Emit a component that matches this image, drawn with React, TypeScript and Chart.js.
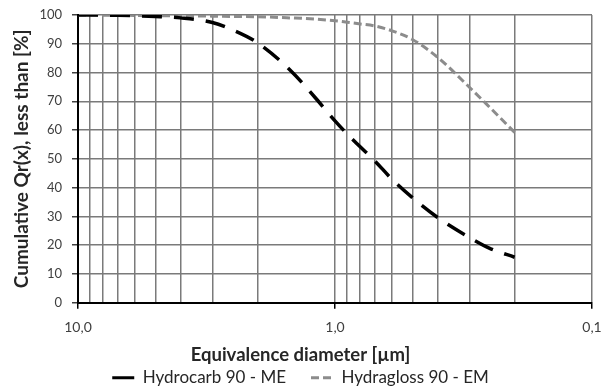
import React, { useEffect, useRef } from "react";
import { Chart, registerables } from "chart.js";
Chart.register(...registerables);

// Equivalence diameter [µm] sample points
const diameters = [10, 7, 5, 4, 3, 2.5, 2, 1.5, 1.2, 1.0, 0.9, 0.8, 0.7, 0.6, 0.5, 0.4, 0.3, 0.25, 0.2];
// Cumulative Qr(x) [%]
const hydrocarb = [100, 99.9, 99.5, 99.0, 97.4, 94.8, 90.3, 81.0, 71.5, 63.2, 58.8, 54.3, 49.3, 42.9, 36.5, 29.7, 22.7, 18.9, 15.8];
const hydragloss = [100, 99.9, 99.8, 99.7, 99.6, 99.5, 99.4, 99.0, 98.6, 98.0, 97.5, 96.9, 96.2, 94.5, 91.5, 85.4, 74.9, 67.9, 59.2];

const seriesNames = ["Hydrocarb 90 - ME", "Hydragloss 90 - EM"];
const xGridValues = [10, 9, 8, 7, 6, 5, 4, 3, 2, 1, 0.9, 0.8, 0.7, 0.6, 0.5, 0.4, 0.3, 0.2, 0.1];
const xTickLabels: Record<string, string> = { "10": "10,0", "1": "1,0", "0.1": "0,1" };
const xTitle = "Equivalence diameter [µm]";
const yTitle = "Cumulative Qr(x), less than [%]";

const FONT = "Lato, 'Open Sans', sans-serif";

export default function App() {
  const ref = useRef<HTMLCanvasElement>(null);
  useEffect(() => {
    const chart = new Chart(ref.current!, {
      type: "line",
      data: {
        datasets: [
          {
            label: seriesNames[0],
            data: diameters.map((d, i) => ({ x: d, y: hydrocarb[i] })),
            borderColor: "#000000",
            borderWidth: 3.5,
            borderDash: [20, 12],
            borderCapStyle: "butt",
            pointRadius: 0,
            cubicInterpolationMode: "monotone",
            fill: false,
          },
          {
            label: seriesNames[1],
            data: diameters.map((d, i) => ({ x: d, y: hydragloss[i] })),
            borderColor: "#8c8c8c",
            borderWidth: 3,
            borderDash: [8, 4],
            pointRadius: 0,
            cubicInterpolationMode: "monotone",
            fill: false,
          },
        ],
      },
      options: {
        animation: false,
        responsive: true,
        maintainAspectRatio: false,
        layout: { padding: { top: 15, left: 0, right: 0, bottom: -8.5 } },
        scales: {
          x: {
            type: "logarithmic",
            min: 0.1,
            max: 10,
            reverse: true,
            afterBuildTicks: (scale: any) => {
              scale.ticks = xGridValues.map((v) => ({ value: v, major: xTickLabels[String(v)] !== undefined }));
            },
            afterFit: (scale: any) => {
              scale.paddingRight = 9;
            },
            ticks: {
              autoSkip: false,
              maxRotation: 0,
              minRotation: 0,
              padding: 10,
              color: "#404040",
              font: { family: FONT, size: 14 },
              callback: (value: any) => xTickLabels[String(value)] ?? "",
            },
            grid: {
              color: "#7a7a7a",
              lineWidth: 1.5,
              tickLength: 6,
              tickColor: (c: any) => (c.tick && xTickLabels[String(c.tick.value)] !== undefined ? "#000000" : "rgba(0,0,0,0)"),
            },
            border: { display: true, color: "#000000", width: 2 },
          },
          y: {
            min: 0,
            max: 100,
            afterFit: (scale: any) => {
              scale.width = 78;
              scale.paddingTop = 0;
              scale.paddingBottom = 0;
            },
            ticks: {
              stepSize: 10,
              padding: 10,
              color: "#404040",
              font: { family: FONT, size: 13 },
            },
            grid: { color: "#7a7a7a", lineWidth: 1.5, tickLength: 6, tickColor: "#404040" },
            border: { display: true, color: "#000000", width: 2 },
            title: {
              display: true,
              text: yTitle,
              color: "#262626",
              font: { family: FONT, size: 19, weight: "bold" },
              padding: { top: 10.6, bottom: 0 },
            },
          },
        },
        plugins: {
          title: {
            display: true,
            text: xTitle,
            position: "bottom",
            weight: 500,
            color: "#262626",
            font: { family: FONT, size: 18.5, weight: "bold" },
            padding: { top: -2, bottom: -21.5 },
          },
          legend: {
            display: true,
            position: "bottom",
            labels: {
              usePointStyle: true,
              pointStyleWidth: 22,
              padding: 25,
              color: "#262626",
              font: { family: FONT, size: 17 },
              generateLabels: () => [
                {
                  text: seriesNames[0],
                  strokeStyle: "#000000",
                  fillStyle: "#000000",
                  lineWidth: 3,
                  lineDash: [],
                  pointStyle: "line",
                  datasetIndex: 0,
                  hidden: false,
                  fontColor: "#262626",
                },
                {
                  text: seriesNames[1],
                  strokeStyle: "#8c8c8c",
                  fillStyle: "#8c8c8c",
                  lineWidth: 3,
                  lineDash: [8, 4],
                  pointStyle: "line",
                  datasetIndex: 1,
                  hidden: false,
                  fontColor: "#262626",
                },
              ],
            },
          },
          tooltip: { enabled: false },
        },
      } as any,
    });
    return () => chart.destroy();
  }, []);
  return (
    <div style={{ position: "fixed", left: 0, top: 0, width: 601, height: 389, background: "#ffffff" }}>
      <canvas ref={ref} />
    </div>
  );
}
